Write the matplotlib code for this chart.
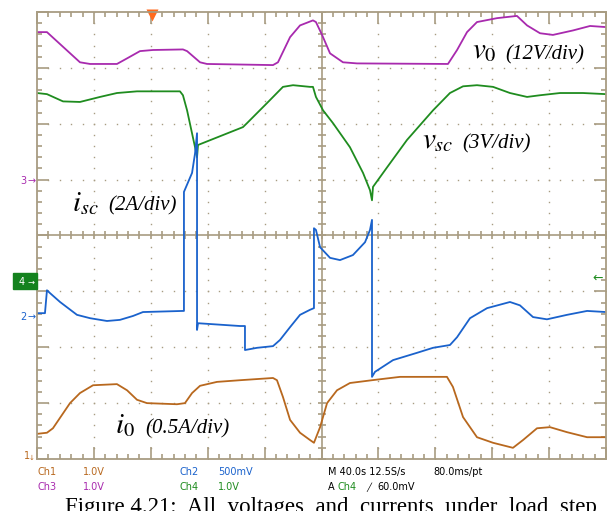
import numpy as np
import matplotlib
matplotlib.use("Agg")
import matplotlib.pyplot as plt

plt.rcParams['mathtext.fontset'] = 'stix'

# Oscilloscope traces: time (s, 40 s/div) and screen position (divisions)
t_v0 = [0, 7.0, 30.2, 37.3, 56.2, 63.3, 72.4, 81.5, 102.6, 105.5, 114.6, 119.5, 165.9,
        169.4, 177.9, 184.9, 194.0, 196.1, 200.4, 206.0, 215.1, 225.0, 288.9, 295.3,
        302.3, 309.3, 323.4, 337.4, 344.5, 353.6, 362.7, 376.8, 388.8, 400]
v0 = [7.64, 7.64, 7.10, 7.07, 7.07, 7.17, 7.30, 7.32, 7.33, 7.30, 7.10, 7.07, 7.05,
      7.10, 7.55, 7.76, 7.85, 7.82, 7.59, 7.26, 7.10, 7.08, 7.07, 7.32,
      7.64, 7.82, 7.89, 7.93, 7.76, 7.62, 7.59, 7.67, 7.75, 7.73]

t_vsc = [0, 7.0, 18.3, 30.2, 44.3, 56.2, 70.3, 100.5, 102.6, 105.5, 111.1, 112.5, 113.2,
         144.8, 147.6, 161.7, 172.9, 180.0, 191.9, 194.0, 196.1, 201.1, 208.1, 220.0,
         229.2, 234.1, 235.5, 236.2, 246.1, 260.1, 278.4, 290.3, 299.5, 309.3, 320.6,
         332.5, 344.5, 353.6, 367.7, 383.8, 400]
vsc = [6.55, 6.53, 6.40, 6.39, 6.48, 6.55, 6.58, 6.58, 6.51, 6.24, 5.58, 5.40, 5.62,
       5.94, 6.01, 6.37, 6.66, 6.69, 6.66, 6.66, 6.48, 6.24, 6.01, 5.58,
       5.12, 4.81, 4.63, 4.87, 5.22, 5.71, 6.24, 6.55, 6.67, 6.69, 6.66,
       6.55, 6.48, 6.51, 6.55, 6.55, 6.53]

t_isc = [0, 5.6, 7.0, 9.1, 16.2, 28.1, 37.3, 49.2, 58.3, 67.5, 74.5, 102.6, 103.3, 103.3,
         109.0, 111.1, 112.5, 112.5, 113.2, 142.7, 146.2, 146.2, 154.7, 165.9, 170.8,
         177.9, 184.9, 191.9, 194.7, 194.7, 196.1, 199.0, 206.0, 213.0, 222.1, 230.6,
         234.1, 235.5, 235.5, 237.6, 250.3, 267.1, 278.4, 290.3, 295.3, 304.4, 316.4,
         332.5, 339.5, 348.7, 358.5, 372.6, 386.7, 400]
isc = [2.61, 2.61, 3.02, 2.97, 2.81, 2.58, 2.52, 2.47, 2.49, 2.56, 2.63, 2.65, 2.65, 4.78,
       5.12, 5.47, 5.83, 2.31, 2.43, 2.38, 2.38, 1.95, 1.99, 2.02, 2.13,
       2.36, 2.58, 2.67, 2.70, 4.13, 4.10, 3.79, 3.60, 3.56, 3.65, 3.88,
       4.10, 4.28, 1.47, 1.56, 1.77, 1.90, 1.99, 2.04, 2.18, 2.52, 2.70,
       2.81, 2.75, 2.54, 2.50, 2.58, 2.65, 2.63]

t_i0 = [0, 7.0, 11.2, 23.2, 30.2, 39.4, 56.2, 63.3, 70.3, 77.3, 98.4, 104.0, 109.0, 114.6,
        126.5, 142.7, 165.9, 168.7, 172.9, 177.9, 184.9, 191.9, 194.7, 199.0, 203.9,
        210.9, 220.0, 235.5, 255.2, 288.2, 292.4, 299.5, 309.3, 320.6, 334.6, 341.7,
        351.5, 360.6, 372.6, 386.7, 400]
i0 = [0.45, 0.47, 0.55, 1.00, 1.18, 1.32, 1.34, 1.23, 1.06, 1.00, 0.98, 1.00, 1.18, 1.31,
      1.38, 1.41, 1.45, 1.41, 1.11, 0.70, 0.47, 0.34, 0.29, 0.57, 1.00,
      1.23, 1.36, 1.41, 1.47, 1.47, 1.29, 0.75, 0.39, 0.29, 0.20, 0.34,
      0.55, 0.57, 0.48, 0.39, 0.39]

c_purple = '#a82aae'
c_green = '#1f8c1f'
c_blue = '#1a62cc'
c_brown = '#b8681e'
c_grid = '#a89c82'

W, H = 607, 511
fig = plt.figure(figsize=(W / 100, H / 100), dpi=100)
ax = fig.add_axes([37 / W, 1 - 459 / H, 569 / W, 447 / H])
ax.set_xlim(0, 400)
ax.set_ylim(0, 8)


def px(x, y):
    return x / W, 1 - y / H


# dotted graticule
for gx in [40, 80, 120, 160, 240, 280, 320, 360]:
    ys = np.arange(0, 8.01, 0.2)
    ax.plot([gx] * len(ys), ys, ls='none', marker='s', ms=1.0, mec='none', mfc=c_grid)
for gy in [1, 2, 3, 5, 6, 7]:
    xs = np.arange(0, 400.1, 8)
    ax.plot(xs, [gy] * len(xs), ls='none', marker='s', ms=1.0, mec='none', mfc=c_grid)

# centre cross with minor ticks
ax.axhline(4, color=c_grid, lw=1.2)
ax.axvline(200, color=c_grid, lw=1.2)
xs = np.arange(0, 400.1, 8)
ax.plot(xs, [4] * len(xs), ls='none', marker='|', ms=6, mew=1.2, color=c_grid)
ys = np.arange(0, 8.01, 0.2)
ax.plot([200] * len(ys), ys, ls='none', marker='_', ms=6, mew=1.2, color=c_grid)

# border ticks
ax.set_xticks(np.arange(0, 401, 40))
ax.set_xticks(np.arange(0, 401, 8), minor=True)
ax.set_yticks(np.arange(0, 9, 1))
ax.set_yticks(np.arange(0, 8.01, 0.2), minor=True)
ax.tick_params(which='both', direction='in', top=True, right=True, bottom=True, left=True,
               labelbottom=False, labelleft=False, color=c_grid, width=1.2)
ax.tick_params(which='major', length=8.5)
ax.tick_params(which='minor', length=3.5)
for s in ax.spines.values():
    s.set_color(c_grid)
    s.set_linewidth(1.3)

# traces
ax.plot(t_v0, v0, color=c_purple, lw=1.3)
ax.plot(t_vsc, vsc, color=c_green, lw=1.3)
ax.plot(t_isc, isc, color=c_blue, lw=1.3)
ax.plot(t_i0, i0, color=c_brown, lw=1.3)

# trigger marker
ax.plot([80.8], [7.94], marker='v', ms=8, color='#ff6a1e', mec='none', clip_on=False)

# channel ground markers
fig.text(*px(23, 181), '3', color=c_purple, fontsize=7, ha='center', va='center')
fig.text(*px(32, 181), '→', color=c_purple, fontsize=7, ha='center', va='center')
fig.text(*px(23, 317), '2', color=c_blue, fontsize=7, ha='center', va='center')
fig.text(*px(32, 317), '→', color=c_blue, fontsize=7, ha='center', va='center')
fig.patches.append(plt.Rectangle(px(13, 289), 24 / W, 16 / H, transform=fig.transFigure,
                                 color='#14821e', zorder=3))
fig.text(*px(22, 282), '4', color='white', fontsize=7, ha='center', va='center', zorder=4)
fig.text(*px(31, 282), '→', color='white', fontsize=6, ha='center', va='center', zorder=4)
fig.text(*px(27, 456), '1', color=c_brown, fontsize=7, ha='center', va='center')
fig.text(*px(32, 458), '↓', color=c_brown, fontsize=5, ha='center', va='center')
fig.text(*px(598, 278), '←', color=c_green, fontsize=9, ha='center', va='center')

# trace labels
lab = dict(fontsize=15, style='italic', family='Liberation Serif', va='baseline')
fig.text(*px(72, 211), r'$i_{sc}$', fontsize=21, color='black', va='baseline')
fig.text(*px(108, 210), '(2A/div)', **lab)
fig.text(*px(472, 58), r'$v_{\mathit{0}}$', fontsize=21, color='black', va='baseline')
fig.text(*px(505, 59), '(12V/div)', **lab)
fig.text(*px(422, 148), r'$v_{sc}$', fontsize=21, color='black', va='baseline')
fig.text(*px(462, 148), '(3V/div)', **lab)
fig.text(*px(115, 433), r'$i_{\mathit{0}}$', fontsize=21, color='black', va='baseline')
fig.text(*px(145, 433), '(0.5A/div)', **lab)

# status lines
fs = 7
fig.text(*px(38, 472), 'Ch1', color=c_brown, fontsize=fs, va='center')
fig.text(*px(83, 472), '1.0V', color=c_brown, fontsize=fs, va='center')
fig.text(*px(38, 487), 'Ch3', color=c_purple, fontsize=fs, va='center')
fig.text(*px(83, 487), '1.0V', color=c_purple, fontsize=fs, va='center')
fig.text(*px(180, 472), 'Ch2', color=c_blue, fontsize=fs, va='center')
fig.text(*px(218, 472), '500mV', color=c_blue, fontsize=fs, va='center')
fig.text(*px(180, 487), 'Ch4', color=c_green, fontsize=fs, va='center')
fig.text(*px(218, 487), '1.0V', color=c_green, fontsize=fs, va='center')
fig.text(*px(328, 472), 'M 40.0s 12.5S/s', color='black', fontsize=fs, va='center')
fig.text(*px(433, 472), '80.0ms/pt', color='black', fontsize=fs, va='center')
fig.text(*px(328, 487), 'A', color='black', fontsize=fs, va='center')
fig.text(*px(338, 487), 'Ch4', color=c_green, fontsize=fs, va='center')
fig.text(*px(366, 487), '╱', color='black', fontsize=6, va='center', family=['DejaVu Sans'])
fig.text(*px(377, 487), '60.0mV', color='black', fontsize=fs, va='center')

# caption (cut off by the lower edge, as in the source page)
fig.text(*px(65, 513), 'Figure 4.21:  All  voltages  and  currents  under  load  step',
         family='Liberation Serif', fontsize=16.5, va='baseline')

fig.savefig('out.png', dpi=100)
